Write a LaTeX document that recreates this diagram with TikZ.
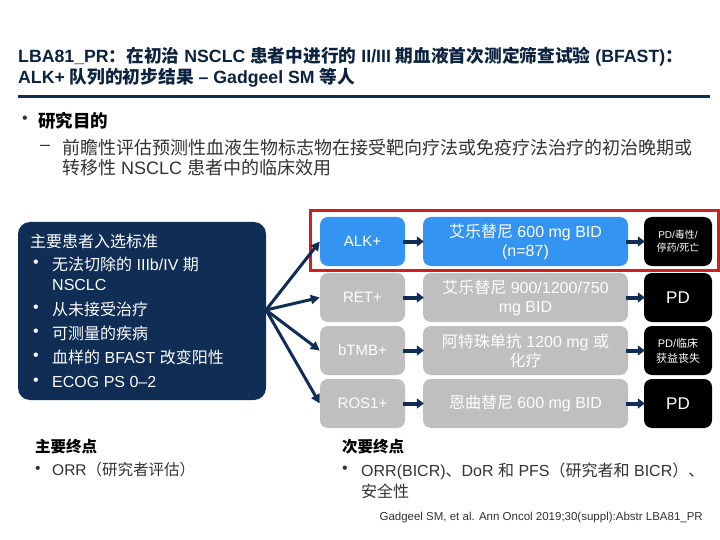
\documentclass[tikz,border=0pt]{standalone}
\usepackage{fontspec}
\setmainfont{Liberation Sans}
\newfontfamily\cjkfam{Noto Sans CJK SC}
\XeTeXinterchartokenstate=1
\newXeTeXintercharclass\cjkcls
\newcount\cjkcc
\def\setcjkrange#1#2{\cjkcc=#1\relax
  \loop\XeTeXcharclass\cjkcc=\cjkcls\relax
  \ifnum\cjkcc<#2\relax\advance\cjkcc by 1\relax\repeat}
\setcjkrange{"4E00}{"9FFF}
\setcjkrange{"3000}{"303F}
\setcjkrange{"FF00}{"FFEF}
\XeTeXinterchartoks 0 \cjkcls = {\cjkfam}
\XeTeXinterchartoks 4095 \cjkcls = {\cjkfam}
\XeTeXinterchartoks \cjkcls 0 = {\rmfamily}
\XeTeXinterchartoks \cjkcls 4095 = {\rmfamily}
\usetikzlibrary{arrows.meta}
\definecolor{navy}{HTML}{0F2D55}
\definecolor{titlec}{HTML}{0C2340}
\definecolor{bodyc}{HTML}{333333}
\definecolor{alkblue}{HTML}{3494F2}
\definecolor{boxgray}{HTML}{BFBFBF}
\definecolor{redc}{HTML}{D01F1F}
\tikzset{
  titletext/.style={anchor=west, inner sep=0pt, text=titlec, font=\fontsize{17.7}{21}\selectfont\bfseries, align=left},
  bodytext/.style={anchor=west, inner sep=0pt, text=bodyc, font=\fontsize{16}{21}\selectfont, align=left},
  whitetext/.style={anchor=west, inner sep=0pt, text=white, font=\fontsize{16}{20}\selectfont},
  armbox/.style={rounded corners=8pt, minimum height=49pt, inner sep=1pt, text=white, align=center, font=\fontsize{16}{19}\selectfont},
  blackbox/.style={armbox, fill=black, minimum width=68pt},
  fanarrow/.style={draw=navy, line width=3pt, -{Triangle[length=9pt,width=9pt]}},
  smallarrow/.style={draw=navy, line width=4pt, -{Triangle[length=7pt,width=10pt]}},
}
\begin{document}
\begin{tikzpicture}[x=1pt,y=-1pt]
\useasboundingbox (0,0) rectangle (720,540);
\fill[white] (0,0) rectangle (720,540);
% title
\node[titletext] (t1) at (18,57) {LBA81\_PR：在初治 NSCLC 患者中进行的 II/III 期血液首次测定筛查试验 (BFAST)：};
\node[titletext] (t2) at (18,78) {ALK+ 队列的初步结果 – Gadgeel SM 等人};
\draw[navy, line width=3pt] (18,97) -- (710,97);
% objective
\node[anchor=west, inner sep=0pt, text=bodyc, font=\fontsize{16}{20}\selectfont] (b1) at (22,120) {•};
\node[anchor=west, inner sep=0pt, text=black, font=\fontsize{17.5}{20}\selectfont\bfseries] (obj) at (38,121) {研究目的};
\node[bodytext, font=\fontsize{18}{20}\selectfont] (dash) at (40,148) {–};
\node[bodytext, font=\fontsize{18}{20}\selectfont] (objtxt) at (62,158) {前瞻性评估预测性血液生物标志物在接受靶向疗法或免疫疗法治疗的初治晚期或\\转移性 NSCLC 患者中的临床效用};
% left box
\fill[navy, rounded corners=12pt] (18,222) rectangle (266,400);
\coordinate (fan) at (266,310);
\node[whitetext] (c0) at (30,241) {主要患者入选标准};
\node[whitetext] (c1b) at (33,264) {•};
\node[whitetext] (c1) at (52,264) {无法切除的 IIIb/IV 期};
\node[whitetext] (c1c) at (52,285) {NSCLC};
\node[whitetext] (c2b) at (33,309) {•};
\node[whitetext] (c2) at (52,309) {从未接受治疗};
\node[whitetext] (c3b) at (33,333) {•};
\node[whitetext] (c3) at (52,333) {可测量的疾病};
\node[whitetext] (c4b) at (33,357) {•};
\node[whitetext] (c4) at (52,357) {血样的 BFAST 改变阳性};
\node[whitetext] (c5b) at (33,382) {•};
\node[whitetext] (c5) at (52,382) {ECOG PS 0–2};
% arm boxes
\node[armbox, fill=alkblue, minimum width=85pt, font=\fontsize{15}{19}\selectfont] (alk) at (362.5,241.5) {ALK+};
\node[armbox, fill=alkblue, minimum width=205pt] (alkt) at (525.5,241.5) {艾乐替尼 600 mg BID\\(n=87)};
\node[blackbox, font=\fontsize{10}{13}\selectfont] (alkr) at (678,241.5) {PD/毒性/\\停药/死亡};
\node[armbox, fill=boxgray, minimum width=85pt, font=\fontsize{15}{19}\selectfont] (ret) at (362.5,297.5) {RET+};
\node[armbox, fill=boxgray, minimum width=205pt] (rett) at (525.5,297.5) {艾乐替尼 900/1200/750\\mg BID};
\node[blackbox, font=\fontsize{17}{20}\selectfont] (retr) at (678,297.5) {PD};
\node[armbox, fill=boxgray, minimum width=85pt, font=\fontsize{15}{19}\selectfont] (tmb) at (362.5,350.5) {bTMB+};
\node[armbox, fill=boxgray, minimum width=205pt] (tmbt) at (525.5,350.5) {阿特珠单抗 1200 mg 或\\化疗};
\node[blackbox, font=\fontsize{11}{15}\selectfont] (tmbr) at (678,350.5) {PD/临床\\获益丧失};
\node[armbox, fill=boxgray, minimum width=85pt, font=\fontsize{15}{19}\selectfont] (ros) at (362.5,403.5) {ROS1+};
\node[armbox, fill=boxgray, minimum width=205pt] (rost) at (525.5,403.5) {恩曲替尼 600 mg BID};
\node[blackbox, font=\fontsize{17}{20}\selectfont] (rosr) at (678,403.5) {PD};
% red highlight
\draw[redc, line width=3pt] (310,211) rectangle (718,270);
% fan arrows
\draw[fanarrow] (fan) -- (alk.west);
\draw[fanarrow] (fan) -- (ret.west);
\draw[fanarrow] (fan) -- (tmb.west);
\draw[fanarrow] (fan) -- (ros.west);
% small arrows
\foreach \a/\b in {alk/alkt, alkt/alkr, ret/rett, rett/retr, tmb/tmbt, tmbt/tmbr, ros/rost, rost/rosr}{
  \draw[smallarrow] ([xshift=-2pt]\a.east) -- ([xshift=1pt]\b.west);
}
% endpoints
\node[anchor=west, inner sep=0pt, text=black, font=\fontsize{15.5}{20}\selectfont\bfseries] (pe) at (35,447) {主要终点};
\node[bodytext, font=\fontsize{15.5}{20}\selectfont] (pe1b) at (35,470) {•};
\node[bodytext, font=\fontsize{15.5}{20}\selectfont] (pe1) at (52,470) {ORR（研究者评估）};
\node[anchor=west, inner sep=0pt, text=black, font=\fontsize{15.5}{20}\selectfont\bfseries] (se) at (342,447) {次要终点};
\node[bodytext] (se1b) at (342,470) {•};
\node[bodytext] (se1) at (361,481) {ORR(BICR)、DoR 和 PFS（研究者和 BICR）、\\安全性};
\node[anchor=east, inner sep=0pt, text=bodyc, font=\fontsize{11.5}{13}\selectfont] (cite) at (703,518) {Gadgeel SM, et al. Ann Oncol 2019;30(suppl):Abstr LBA81\_PR};
\end{tikzpicture}
\end{document}
